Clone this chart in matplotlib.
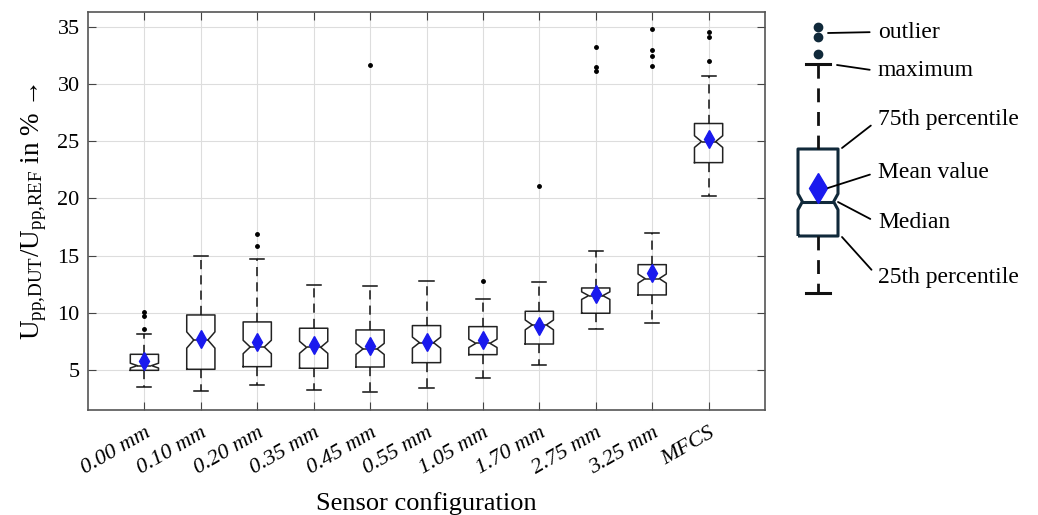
import numpy as np
import matplotlib
matplotlib.use("Agg")
import matplotlib.pyplot as plt

plt.rcParams['font.family'] = ['Liberation Serif', 'DejaVu Serif']
plt.rcParams['mathtext.fontset'] = 'custom'
plt.rcParams['mathtext.rm'] = 'Liberation Serif'

# Data
labels = ['0.00 mm', '0.10 mm', '0.20 mm', '0.35 mm', '0.45 mm', '0.55 mm',
          '1.05 mm', '1.70 mm', '2.75 mm', '3.25 mm', 'MFCS']
whislo = [3.54, 3.16, 3.69, 3.22, 3.05, 3.43, 4.30, 5.46, 8.56, 9.08, 20.19]
q1 = [4.97, 5.06, 5.29, 5.15, 5.26, 5.64, 6.34, 7.27, 9.96, 11.56, 23.13]
med = [5.38, 7.62, 7.01, 6.98, 6.84, 7.39, 7.33, 8.94, 11.50, 12.99, 24.97]
q3 = [6.37, 9.81, 9.20, 8.65, 8.50, 8.88, 8.79, 10.13, 12.17, 14.21, 26.55]
whishi = [8.18, 14.97, 14.71, 12.43, 12.32, 12.81, 11.24, 12.70, 15.38, 16.98, 30.71]
means = [5.79, 7.68, 7.45, 7.16, 7.10, 7.42, 7.62, 8.88, 11.67, 13.48, 25.18]
fliers = [[10.1, 9.75, 8.61], [], [16.87, 15.87], [], [31.68], [], [12.78],
          [21.09], [33.25, 31.47, 31.13], [34.77, 32.96, 32.46, 31.62],
          [34.53, 34.10, 32.03]]
n_samples = 110

# schematic legend box (arbitrary units)
leg_stats = dict(whislo=1.7, q1=7.4, med=10.83, q3=16.1, whishi=24.6,
                 mean=12.2, fliers=[28.3, 27.3, 25.6], cilo=10.03, cihi=11.63)
leg_text = ['outlier', 'maximum', '75th percentile', 'Mean value', 'Median',
            '25th percentile']
leg_point = [(5.8, 27.7), (6.7, 24.5), (7.2, 16.2), (5.8, 12.2), (6.8, 10.8), (7.2, 7.3)]
leg_text_y = [27.8, 23.9, 19.0, 13.8, 8.7, 3.3]

stats = []
for i in range(len(labels)):
    half = 1.57 * (q3[i] - q1[i]) / np.sqrt(n_samples)
    stats.append(dict(label=labels[i], whislo=whislo[i], q1=q1[i], med=med[i],
                      q3=q3[i], whishi=whishi[i], mean=means[i], fliers=fliers[i],
                      cilo=med[i] - half, cihi=med[i] + half))

fig = plt.figure(figsize=(10.38, 5.15), dpi=100)
ax = fig.add_axes([88 / 1038, 105 / 515, 677 / 1038, 398 / 515])

ax.bxp(stats, positions=range(1, len(labels) + 1), widths=0.5, capwidths=0.25,
       shownotches=True, showmeans=True,
       boxprops=dict(color='#222222', lw=1.1),
       medianprops=dict(color='#222222', lw=1.1),
       whiskerprops=dict(color='#111111', lw=1.1, linestyle=(0, (6, 4))),
       capprops=dict(color='#111111', lw=1.1),
       meanprops=dict(marker='d', markerfacecolor='#1a1aee', markeredgecolor='#1a1aee',
                      markersize=9),
       flierprops=dict(marker='o', markerfacecolor='k', markeredgecolor='k',
                       markersize=2.5))

ax.set_xlim(0, 12)
ax.set_ylim(1.5, 36.3)
ax.set_yticks([5, 10, 15, 20, 25, 30, 35])
ax.set_xticks(range(1, len(labels) + 1))
ax.set_xticklabels(labels, rotation=30, ha='right', rotation_mode='anchor',
                   style='italic', fontsize=16.5)
ax.grid(True, color='#dddddd', lw=0.8)
ax.set_axisbelow(True)
ax.tick_params(direction='in', top=True, right=True, length=6, labelsize=16,
               color='#444444', pad=6)
ax.tick_params(axis='x', pad=10)
for s in ax.spines.values():
    s.set_color('#555555')
    s.set_linewidth(1.2)

ax.set_xlabel('Sensor configuration', fontsize=19)
ax.xaxis.set_label_coords(0.5, -0.205)
ax.set_ylabel(r'$\mathrm{U_{pp{,}DUT}/U_{pp{,}REF}}$ in % →', fontsize=19.5)
ax.yaxis.set_label_coords(-0.058, 0.5)

# Legend schematic
ax2 = fig.add_axes([770 / 1038, 205 / 515, 268 / 1038, 310 / 515])
ax2.set_xlim(0, 26.8)
ax2.set_ylim(0, 31)
ax2.axis('off')
leg_pos, leg_w = 4.8, 4.0
res = ax2.bxp([leg_stats], positions=[leg_pos], widths=leg_w, capwidths=2.4,
              shownotches=True, showmeans=True,
              boxprops=dict(color='#10293a', lw=2.2, solid_capstyle='butt'),
              medianprops=dict(color='#10293a', lw=2.2),
              whiskerprops=dict(color='#111111', lw=2.0, linestyle=(0, (5, 3.5))),
              capprops=dict(color='#111111', lw=2.2),
              meanprops=dict(marker='d', markerfacecolor='#1a1aee',
                             markeredgecolor='#1a1aee', markersize=15),
              flierprops=dict(marker='o', markerfacecolor='#10293a',
                              markeredgecolor='#10293a', markersize=6))
# shallower notch in the schematic
for line in res['boxes'] + res['medians']:
    x = np.array(line.get_xdata(), dtype=float)
    inner = np.isclose(np.abs(x - leg_pos), leg_w / 4)
    x[inner] = leg_pos + np.sign(x[inner] - leg_pos) * leg_w * 0.39
    line.set_xdata(x)

for txt, pt, ty in zip(leg_text, leg_point, leg_text_y):
    ax2.annotate(txt, xy=pt, xytext=(10.8, ty), ha='left', va='center', fontsize=17,
                 arrowprops=dict(arrowstyle='-', lw=1.3, color='k', relpos=(0, 0.5),
                                 shrinkA=4, shrinkB=0))

fig.savefig('out.png', dpi=100)
